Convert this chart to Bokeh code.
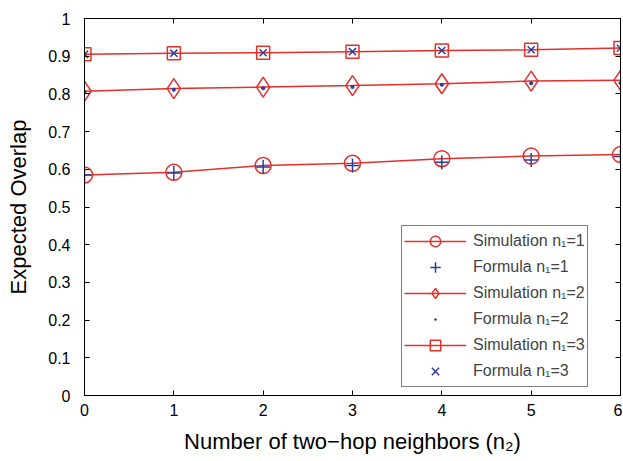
from bokeh.plotting import figure
from bokeh.models import LinearAxis, FixedTicker, Range1d, Legend, CustomJSTickFormatter
from bokeh.embed import file_html
from bokeh.resources import INLINE

n2 = [0, 1, 2, 3, 4, 5, 6]
sim1 = [0.585, 0.592, 0.610, 0.616, 0.628, 0.635, 0.639]
form1 = [0.585, 0.590, 0.606, 0.610, 0.619, 0.625, 0.634]
sim2 = [0.807, 0.814, 0.818, 0.822, 0.827, 0.834, 0.836]
form2 = [0.806, 0.811, 0.815, 0.818, 0.824, 0.828, 0.829]
sim3 = [0.905, 0.908, 0.909, 0.912, 0.915, 0.917, 0.922]
form3 = [0.905, 0.908, 0.909, 0.912, 0.915, 0.917, 0.921]

x_ticks = [0, 1, 2, 3, 4, 5, 6]
y_ticks = [0, 0.1, 0.2, 0.3, 0.4, 0.5, 0.6, 0.7, 0.8, 0.9, 1]

RED = "#e3302a"
BLUE = "#2b3e9e"
FONT = "Liberation Sans"

p = figure(frame_width=536, frame_height=377, output_backend="svg",
           toolbar_location=None, x_range=Range1d(0, 6), y_range=Range1d(0, 1),
           min_border_left=84, min_border_top=18, min_border_right=2,
           min_border_bottom=58, background_fill_color="white")
p.xgrid.visible = False
p.ygrid.visible = False
p.outline_line_color = "black"
p.outline_line_width = 1

def style_axis(ax):
    ax.axis_line_color = "black"
    ax.major_tick_in = 5
    ax.major_tick_out = 0
    ax.minor_tick_line_color = None
    ax.major_tick_line_color = "black"
    ax.major_label_text_font = FONT
    ax.major_label_text_font_size = "16px"
    ax.major_label_text_color = "black"
    ax.axis_label_text_font = FONT
    ax.axis_label_text_font_size = "22px"
    ax.axis_label_text_font_style = "normal"
    ax.axis_label_text_color = "black"

xa = p.xaxis[0]
ya = p.yaxis[0]
xa.ticker = FixedTicker(ticks=x_ticks)
ya.ticker = FixedTicker(ticks=y_ticks)
ya.major_label_overrides = {0: "0", 1: "1"}
style_axis(xa)
style_axis(ya)
xa.axis_label = "Number of two\u2212hop neighbors (n\u2082)"
ya.axis_label = "Expected Overlap"
xa.major_label_standoff = 8
ya.major_label_standoff = 14
xa.axis_label_standoff = 10
ya.axis_label_standoff = 14

blank = CustomJSTickFormatter(code="return ''")
top = LinearAxis(ticker=FixedTicker(ticks=x_ticks), formatter=blank, major_label_standoff=0)
right = LinearAxis(ticker=FixedTicker(ticks=y_ticks), formatter=blank, major_label_standoff=0)
style_axis(top)
style_axis(right)
p.add_layout(top, "above")
p.add_layout(right, "right")

r1l = p.line(n2, sim1, line_color=RED, line_width=1.5)
r1m = p.scatter(n2, sim1, marker="circle", size=16, fill_color=None, line_color=RED, line_width=1.5)
r1f = p.scatter(n2, form1, marker="cross", size=14, line_color=BLUE, line_width=1.5)
r2l = p.line(n2, sim2, line_color=RED, line_width=1.5)
r2m = p.scatter(n2, sim2, marker="diamond", size=20, fill_color=None,
                line_color=RED, line_width=1.5)
r2f = p.scatter(n2, form2, marker="dot", size=16, fill_color=BLUE, line_color=BLUE)
r3l = p.line(n2, sim3, line_color=RED, line_width=1.5)
r3m = p.scatter(n2, sim3, marker="square", size=13, fill_color=None, line_color=RED, line_width=1.5)
r3f = p.scatter(n2, form3, marker="x", size=10, line_color=BLUE, line_width=1.5)

legend = Legend(items=[
    ("Simulation n\u2081=1", [r1l, r1m]),
    ("Formula n\u2081=1", [r1f]),
    ("Simulation n\u2081=2", [r2l, r2m]),
    ("Formula n\u2081=2", [r2f]),
    ("Simulation n\u2081=3", [r3l, r3m]),
    ("Formula n\u2081=3", [r3f]),
], location=(317, 8))
legend.glyph_width = 62
legend.glyph_height = 26
legend.label_height = 20
legend.label_text_font = FONT
legend.label_text_font_size = "16px"
legend.label_standoff = 7
legend.spacing = 0
legend.padding = 2
legend.margin = 0
legend.border_line_color = "black"
legend.border_line_width = 1
legend.background_fill_color = "white"
legend.background_fill_alpha = 1
p.add_layout(legend, "center")

open("out.html", "w").write(file_html(p, INLINE))
